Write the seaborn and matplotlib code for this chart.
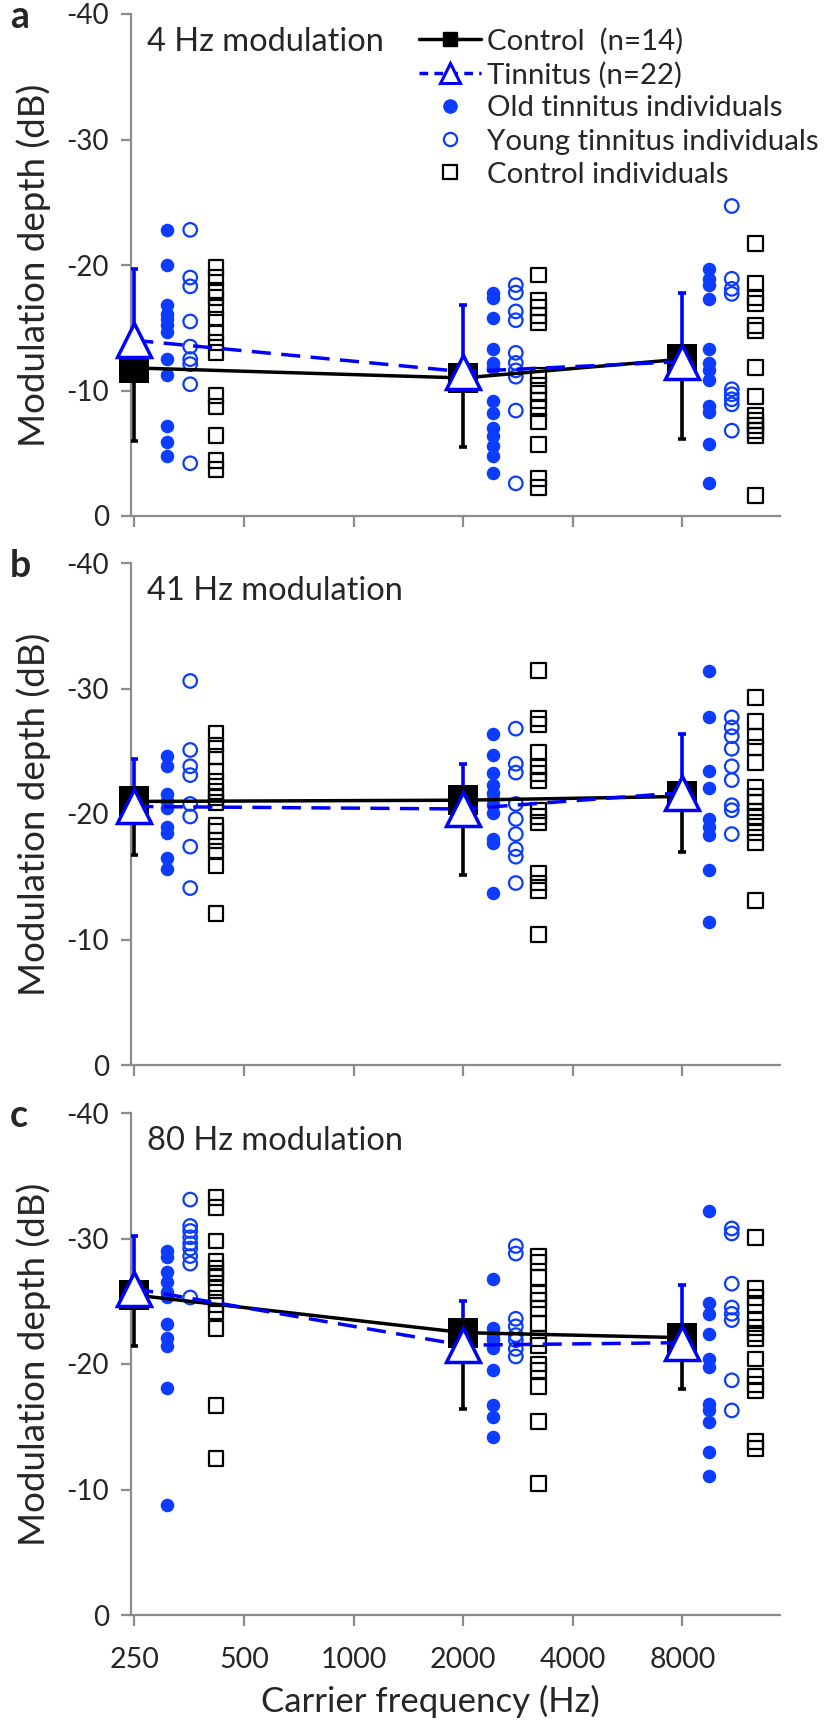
import numpy as np
import pandas as pd
import matplotlib
matplotlib.use("Agg")
import matplotlib.pyplot as plt
from matplotlib.lines import Line2D
import seaborn as sns

# carrier frequencies (Hz) and panel labels
freqs = [250, 2000, 8000]
tick_freqs = [250, 500, 1000, 2000, 4000, 8000]
panel_letters = ["a", "b", "c"]
panel_titles = ["4 Hz modulation", "41 Hz modulation", "80 Hz modulation"]

# group means and SD (dB)
ctrl_mean_4 = [-11.8, -11.0, -12.5]
ctrl_sd_4 = [5.8, 5.5, 6.4]
tin_mean_4 = [-14.0, -11.5, -12.3]
tin_sd_4 = [5.7, 5.3, 5.5]

ctrl_mean_41 = [-21.0, -21.1, -21.4]
ctrl_sd_41 = [4.3, 6.0, 4.4]
tin_mean_41 = [-20.6, -20.4, -21.7]
tin_sd_41 = [3.8, 3.6, 4.7]

ctrl_mean_80 = [-25.5, -22.5, -22.1]
ctrl_sd_80 = [4.1, 6.1, 4.1]
tin_mean_80 = [-26.0, -21.5, -21.7]
tin_sd_80 = [4.2, 3.5, 4.6]

# individual data, one list per carrier (250, 2000, 8000)
old_4 = [[-22.8, -20.0, -16.8, -16.1, -15.7, -15.2, -14.7, -12.5, -11.2, -7.2, -5.9, -4.8],
         [-17.8, -17.4, -15.8, -13.3, -12.2, -11.8, -9.2, -8.2, -7.0, -6.4, -5.6, -4.8, -3.4],
         [-19.7, -18.9, -18.4, -17.3, -13.3, -12.2, -11.6, -10.8, -8.8, -8.3, -5.7, -2.6]]
young_4 = [[-22.8, -19.0, -18.3, -15.5, -13.5, -12.5, -12.1, -10.5, -4.2],
           [-18.4, -17.8, -16.3, -15.6, -13.0, -12.2, -11.6, -11.1, -8.4, -2.6],
           [-24.7, -18.9, -18.1, -17.7, -10.1, -9.7, -9.3, -8.9, -6.8]]
ctrl_4 = [[-19.8, -19.0, -18.0, -17.4, -16.6, -15.7, -14.6, -13.8, -13.0, -9.6, -8.7, -6.4, -4.4, -3.7],
          [-19.2, -17.2, -16.6, -16.0, -15.4, -11.2, -10.4, -9.8, -9.2, -8.6, -7.5, -5.7, -3.0, -2.3],
          [-21.7, -18.5, -17.4, -16.9, -15.2, -14.8, -11.8, -9.5, -8.0, -7.6, -7.2, -6.8, -6.4, -1.6]]

old_41 = [[-24.6, -23.8, -21.6, -21.0, -20.5, -19.0, -18.5, -16.5, -15.6],
          [-26.4, -24.7, -23.3, -22.3, -21.7, -21.2, -20.7, -20.1, -18.0, -17.7, -13.7],
          [-31.4, -27.7, -23.4, -22.1, -19.6, -19.0, -18.3, -15.5, -11.4]]
young_41 = [[-30.6, -25.1, -23.8, -23.1, -20.8, -19.8, -17.4, -14.1],
            [-26.8, -24.0, -23.3, -20.8, -19.6, -18.4, -17.2, -16.6, -14.5],
            [-27.7, -26.9, -26.2, -25.2, -23.8, -22.7, -20.7, -20.3, -18.4]]
ctrl_41 = [[-26.4, -25.5, -24.6, -23.4, -22.6, -21.8, -21.3, -20.9, -19.1, -18.6, -17.9, -17.0, -15.9, -12.1],
           [-31.4, -27.6, -27.1, -24.9, -23.8, -23.2, -22.7, -20.3, -19.8, -19.3, -15.3, -14.5, -13.9, -10.4],
           [-29.3, -27.4, -26.2, -25.3, -24.1, -22.1, -21.4, -20.9, -20.2, -19.8, -19.3, -18.5, -17.7, -13.1]]

old_80 = [[-29.0, -28.5, -27.3, -26.5, -25.7, -25.3, -23.2, -22.1, -21.4, -18.1, -8.75],
          [-26.8, -22.9, -22.4, -22.1, -21.9, -21.3, -19.5, -16.7, -15.8, -14.2],
          [-32.2, -24.9, -24.0, -22.4, -20.4, -19.8, -16.8, -16.3, -15.4, -13.0, -11.1]]
young_80 = [[-33.1, -31.0, -30.6, -30.1, -29.6, -29.2, -28.6, -28.0, -25.3],
            [-29.4, -28.8, -23.6, -23.0, -22.3, -21.9, -21.2, -20.6],
            [-30.8, -30.4, -26.4, -24.5, -24.0, -23.5, -18.7, -16.3]]
ctrl_80 = [[-33.3, -32.5, -29.8, -28.2, -27.6, -27.2, -26.9, -26.1, -25.2, -24.7, -24.2, -22.8, -16.7, -12.5],
           [-28.6, -28.1, -26.9, -25.6, -25.1, -24.4, -23.2, -22.0, -21.5, -20.0, -19.5, -18.2, -15.4, -10.5],
           [-30.1, -26.0, -25.3, -24.7, -23.5, -22.9, -22.4, -22.0, -20.4, -19.0, -18.4, -17.9, -13.8, -13.3]]

panels = [
    (ctrl_mean_4, ctrl_sd_4, tin_mean_4, tin_sd_4, old_4, young_4, ctrl_4),
    (ctrl_mean_41, ctrl_sd_41, tin_mean_41, tin_sd_41, old_41, young_41, ctrl_41),
    (ctrl_mean_80, ctrl_sd_80, tin_mean_80, tin_sd_80, old_80, young_80, ctrl_80),
]

# horizontal shift of the individual columns (octaves to the right of each carrier)
shift = {"old": [0.30, 0.27, 0.24], "young": [0.51, 0.48, 0.45], "ctrl": [0.745, 0.69, 0.67]}

BLUE = "#0b3cff"
LINE_BLUE = "#0000ff"
GREY = "#8c8c8c"

sns.set_style("white")
plt.rcParams["font.family"] = ["Lato", "DejaVu Sans"]
plt.rcParams["axes.unicode_minus"] = False

fig = plt.figure(figsize=(8.26, 17.23), dpi=100)
W, H = 826, 1723
ax_left, ax_right = 131, 780
tops = [14, 563, 1113]
ax_h = 502


def long_table(groups):
    rows = []
    for name, vals in groups.items():
        for i, f in enumerate(freqs):
            for v in vals[i]:
                rows.append({"group": name, "freq": f, "x": f * 2 ** shift[name][i], "depth": v})
    return pd.DataFrame(rows)


for k, (cm, cs, tm, ts, old, young, ctrl) in enumerate(panels):
    top = tops[k]
    ax = fig.add_axes([ax_left / W, 1 - (top + ax_h) / H, (ax_right - ax_left) / W, ax_h / H])
    df = long_table({"old": old, "young": young, "ctrl": ctrl})

    sns.scatterplot(data=df[df.group == "old"], x="x", y="depth", ax=ax, marker="o",
                    s=95, color=BLUE, edgecolor=BLUE, linewidth=0, legend=False, zorder=2)
    sns.scatterplot(data=df[df.group == "young"], x="x", y="depth", ax=ax, marker="o",
                    s=95, facecolor="none", edgecolor=BLUE, linewidth=1.6, legend=False, zorder=2)
    sns.scatterplot(data=df[df.group == "ctrl"], x="x", y="depth", ax=ax, marker="s",
                    s=115, facecolor="none", edgecolor="black", linewidth=1.6, legend=False, zorder=2)

    means = pd.DataFrame({"freq": freqs, "ctrl": cm, "tin": tm})
    # control: error bar towards 0, tinnitus: error bar away from 0
    ax.errorbar(freqs, cm, yerr=[np.zeros(3), cs], fmt="none", ecolor="black",
                elinewidth=2.6, capsize=3, capthick=2.6, zorder=3)
    ax.errorbar(freqs, tm, yerr=[ts, np.zeros(3)], fmt="none", ecolor=LINE_BLUE,
                elinewidth=2.6, capsize=3, capthick=2.6, zorder=3)
    sns.lineplot(data=means, x="freq", y="ctrl", ax=ax, color="black", lw=2.5,
                 marker="s", markersize=21, markeredgewidth=0, zorder=4, clip_on=False)
    sns.lineplot(data=means, x="freq", y="tin", ax=ax, color=LINE_BLUE, lw=2.5,
                 dashes=False, zorder=5, clip_on=False)
    ax.lines[-1].set_dashes((5.5, 3))
    ax.plot(freqs, tm, ls="none", marker="^", ms=24, mfc="white", mec=LINE_BLUE,
            mew=2.5, zorder=6, clip_on=False)

    ax.set_xscale("log", base=2)
    ax.set_xlim(250 * 2 ** -0.03, 250 * 2 ** 5.89)
    ax.set_ylim(0, -40)
    ax.set_yticks([0, -10, -20, -30, -40])
    ax.set_yticklabels(["0", "-10", "-20", "-30", "-40"])
    ax.set_xticks(tick_freqs)
    ax.set_xticklabels([str(f) for f in tick_freqs])
    ax.xaxis.set_minor_locator(matplotlib.ticker.NullLocator())

    for s in ["top", "right"]:
        ax.spines[s].set_visible(False)
    for s in ["left", "bottom"]:
        ax.spines[s].set_color(GREY)
        ax.spines[s].set_linewidth(1.6)
    ax.tick_params(axis="y", direction="out", length=7, width=1.6, color=GREY,
                   labelsize=20, pad=9, left=True)
    ax.tick_params(axis="x", direction="out", length=8, width=1.6, color=GREY,
                   labelsize=20.5, pad=15, bottom=True, labelbottom=(k == 2))

    ax.set_ylabel("Modulation depth (dB)", fontsize=26.5, va="center")
    ax.yaxis.set_label_coords(-0.150, 0.5)
    if k == 2:
        ax.set_xlabel("Carrier frequency (Hz)", fontsize=25, va="center")
        ax.xaxis.set_label_coords(0.461, -86 / ax_h)
    else:
        ax.set_xlabel("")

    ax.text(0.024, 0.945, panel_titles[k], transform=ax.transAxes, fontsize=23.5,
            ha="left", va="center")
    fig.text(10 / W, 1 - (top + 3) / H, panel_letters[k], fontsize=27,
             fontweight="bold", ha="left", va="center")

    if k == 0:
        handles = [
            Line2D([], [], color="black", lw=2.5, marker="s", ms=10),
            Line2D([], [], color=LINE_BLUE, lw=2.5, dashes=(2.5, 1.8), marker="^", ms=14,
                   mfc="white", mec=LINE_BLUE, mew=2.2),
            Line2D([], [], ls="none", marker="o", ms=9.5, color=BLUE),
            Line2D([], [], ls="none", marker="o", ms=9.5, mfc="none", mec=BLUE, mew=1.6),
            Line2D([], [], ls="none", marker="s", ms=10.5, mfc="none", mec="black", mew=1.6),
        ]
        labels = ["Control  (n=14)", "Tinnitus (n=22)", "Old tinnitus individuals",
                  "Young tinnitus individuals", "Control individuals"]
        ax.legend(handles, labels, loc="upper left", bbox_to_anchor=(0.444, 0.973),
                  frameon=False, fontsize=21.2, handlelength=2.1, handletextpad=0.2,
                  labelspacing=0.24, borderpad=0, borderaxespad=0)

fig.savefig("out.png", dpi=100)
